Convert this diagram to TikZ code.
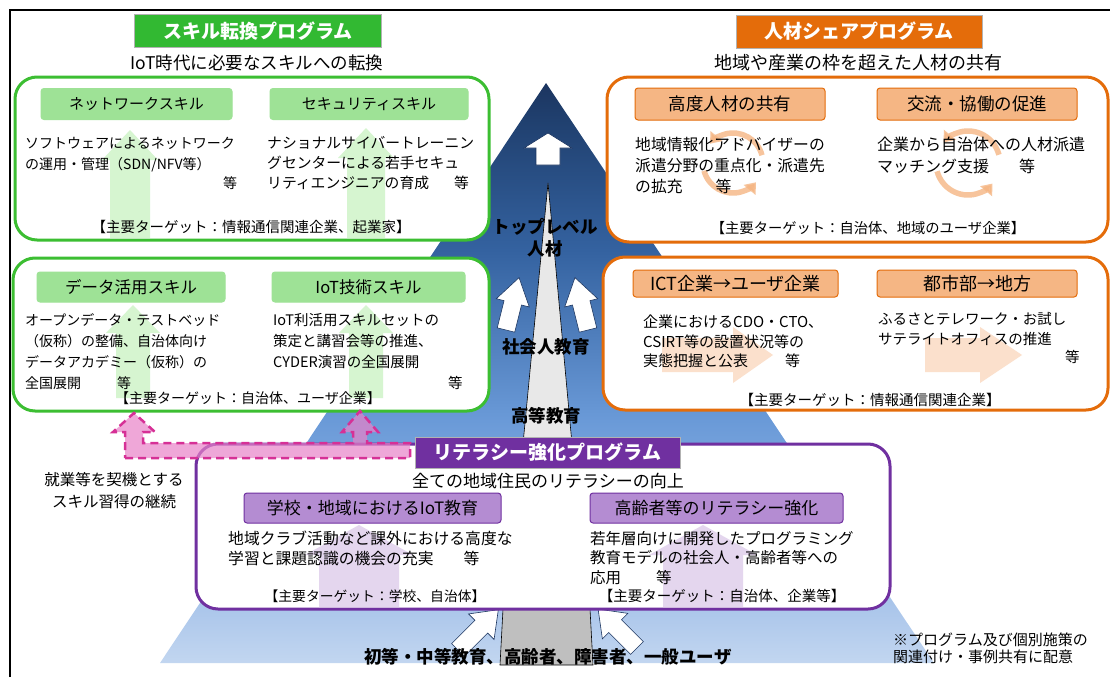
\documentclass[tikz,border=0pt]{standalone}
\usepackage{fontspec}
\setmainfont{Noto Sans CJK JP}
\usetikzlibrary{arrows.meta}

\definecolor{skillgreen}{RGB}{60,190,50}
\definecolor{skilltitle}{RGB}{50,185,50}
\definecolor{skillhead}{RGB}{158,226,150}
\definecolor{skillfaint}{RGB}{214,245,208}
\definecolor{shareorange}{RGB}{228,108,10}
\definecolor{sharehead}{RGB}{245,182,132}
\definecolor{sharefaint}{RGB}{251,224,204}
\definecolor{litpurple}{RGB}{112,48,160}
\definecolor{lithead}{RGB}{180,140,210}
\definecolor{litfaint}{RGB}{228,214,238}
\definecolor{pyrtop}{RGB}{28,53,96}
\definecolor{pyrhigh}{RGB}{32,64,111}
\definecolor{pyrmid}{RGB}{52,98,160}
\definecolor{pyrlow}{RGB}{106,154,216}
\definecolor{pyrfoot}{RGB}{168,196,234}
\definecolor{pyrbot}{RGB}{194,214,240}
\definecolor{pinkfill}{RGB}{232,130,200}
\definecolor{pinkline}{RGB}{214,48,150}

\pgfdeclareverticalshading{pyrshade}{100bp}{color(0bp)=(pyrbot); color(25bp)=(pyrbot);
  color(30.4bp)=(pyrfoot); color(45.9bp)=(pyrlow); color(60.6bp)=(pyrmid);
  color(71.8bp)=(pyrhigh); color(75bp)=(pyrtop); color(100bp)=(pyrtop)}

% fleche pleine : style, x, y, angle, longueur, demi-largeur tige, demi-largeur tete, longueur tete
\newcommand{\blockarrow}[8]{%
  \path[#1, shift={(#2,#3)}, rotate=#4]
    (-#6,0) -- (-#6,-#5+#8) -- (-#7,-#5+#8) -- (0,-#5)
    -- (#7,-#5+#8) -- (#6,-#5+#8) -- (#6,0) -- cycle;}

\begin{document}
\begin{tikzpicture}[x=1pt, y=-1pt,
    progbox/.style={line width=3pt, fill=white, rounded corners=22pt},
    titlebox/.style={draw=gray!60, text=white, font=\fontsize{19}{22}\selectfont\bfseries,
      minimum height=33pt, inner sep=0pt},
    headbox/.style={rounded corners=3pt, line width=1pt, minimum height=31pt, inner sep=0pt,
      font=\fontsize{15}{18}\selectfont},
    subtitle/.style={font=\fontsize{17.5}{20}\selectfont, inner sep=0pt},
    body/.style={font=\fontsize{14.5}{21}\selectfont, align=left, anchor=north west, inner sep=0pt},
    target/.style={font=\fontsize{14.5}{17}\selectfont, inner sep=0pt},
    pyrlabel/.style={font=\fontsize{17.5}{22}\selectfont\bfseries, align=center, inner sep=0pt},
    whitearrow/.style={fill=white, draw=pyrtop, line width=0.6pt},
    greenfaint/.style={fill=skillfaint},
    orangefaint/.style={fill=sharefaint},
    purplefaint/.style={fill=litfaint},
    cyclearrow/.style={draw=sharehead, opacity=0.8, line width=5.5pt,
      -{Triangle[width=15pt,length=10pt]}}]

\useasboundingbox (0,0) rectangle (1110,677);

% cadre
\draw[line width=1.5pt] (10,677) -- (10,10) -- (1110,10);

% pyramide
\shade[shading=pyrshade] (160,663) -- (546,83) -- (934,663) -- cycle;
\draw[fill=gray!18, line width=0.6pt] (523,444) -- (548,183) -- (572,444) -- cycle;
\draw[fill=gray!50, line width=0.6pt] (503,609) -- (590,609) -- (593,665) -- (500,665) -- cycle;

% fleches blanches
\blockarrow{whitearrow}{548}{165}{0}{32}{12}{24}{15}
\blockarrow{whitearrow}{506}{330}{-14}{54}{9}{17}{26}
\blockarrow{whitearrow}{588}{330}{14}{54}{9}{17}{26}
\blockarrow{whitearrow}{458}{650}{-45}{57}{9}{18}{24}
\blockarrow{whitearrow}{637}{648}{45}{55}{9}{18}{24}

\node[pyrlabel] (top) at (545,238) {トップレベル\\人材};
\node[pyrlabel] (adult) at (546,347) {社会人教育};
\node[pyrlabel] (higher) at (546,416) {高等教育};
\node[pyrlabel] (users) at (548,657) {初等・中等教育、高齢者、障害者、一般ユーザ};

% ---- スキル転換プログラム ----
\node[titlebox, fill=skilltitle, minimum width=247pt] (skill) at (258,31) {スキル転換プログラム};
\node[subtitle] (skillsub) at (257,63) {IoT時代に必要なスキルへの転換};

\draw[progbox, draw=skillgreen] (15,77) rectangle (489,240);
\blockarrow{greenfaint}{130}{238}{0}{108}{20}{28}{30}
\blockarrow{greenfaint}{366}{238}{0}{110}{19}{28}{30}
\node[headbox, fill=skillhead, draw=skillhead, minimum width=191pt] (network) at (136.5,104) {ネットワークスキル};
\node[headbox, fill=skillhead, draw=skillhead, minimum width=198pt] (security) at (369,104) {セキュリティスキル};
\node[body, font=\fontsize{14}{21}\selectfont] (networktxt) at (25,137) {ソフトウェアによるネットワーク\\の運用・管理（SDN/NFV等）};
\node[body, font=\fontsize{14}{21}\selectfont] (networketc) at (223,176) {等};
\node[body, font=\fontsize{14.8}{20}\selectfont] (securitytxt) at (267,136) {ナショナルサイバートレーニン\\グセンターによる若手セキュ\\リティエンジニアの育成\hspace{25pt}等};
\node[target] (skilltarget) at (251,227) {【主要ターゲット：情報通信関連企業、起業家】};

\draw[progbox, draw=skillgreen] (13,258) rectangle (489,411);
\blockarrow{greenfaint}{133}{398}{0}{93}{17}{27}{28}
\blockarrow{greenfaint}{366}{398}{0}{93}{17}{27}{28}
\node[headbox, fill=skillhead, draw=skillhead, minimum width=188pt, minimum height=30pt,
  font=\fontsize{16.5}{19}\selectfont] (data) at (131,287) {データ活用スキル};
\node[headbox, fill=skillhead, draw=skillhead, minimum width=193pt, minimum height=30pt,
  font=\fontsize{16.5}{19}\selectfont] (iot) at (368.5,287) {IoT技術スキル};
\node[body, font=\fontsize{14}{21}\selectfont] (datatxt) at (25,313) {オープンデータ・テストベッド\\（仮称）の整備、自治体向け\\データアカデミー（仮称）の\\全国展開\hspace{36pt}等};
\node[body] (iottxt) at (273,313) {IoT利活用スキルセットの\\策定と講習会等の推進、\\CYDER演習の全国展開};
\node[body] (iotetc) at (448,376) {等};
\node[target, font=\fontsize{14}{17}\selectfont] (datatarget) at (248,398) {【主要ターゲット：自治体、ユーザ企業】};

% ---- 人材シェアプログラム ----
\node[titlebox, fill=shareorange, minimum width=246pt] (share) at (859,31.5) {人材シェアプログラム};
\node[subtitle, font=\fontsize{18}{20}\selectfont] (sharesub) at (858,63) {地域や産業の枠を超えた人材の共有};

\draw[progbox, draw=shareorange] (607,77) rectangle (1108,242);
\draw[cyclearrow] ([shift={(15:30pt)}]733,163) arc[start angle=15, end angle=140, radius=30pt];
\draw[cyclearrow] ([shift={(195:30pt)}]733,163) arc[start angle=195, end angle=320, radius=30pt];
\draw[cyclearrow] ([shift={(15:32pt)}]968,163) arc[start angle=15, end angle=140, radius=32pt];
\draw[cyclearrow] ([shift={(195:32pt)}]968,163) arc[start angle=195, end angle=320, radius=32pt];
\node[headbox, fill=sharehead, draw=shareorange, minimum width=190pt, minimum height=32pt,
  font=\fontsize{17.5}{20}\selectfont] (expert) at (730,104) {高度人材の共有};
\node[headbox, fill=sharehead, draw=shareorange, minimum width=200pt, minimum height=32pt,
  font=\fontsize{17.5}{20}\selectfont] (exchange) at (977,104) {交流・協働の促進};
\node[body, font=\fontsize{15.8}{21}\selectfont] (experttxt) at (635,137) {地域情報化アドバイザーの\\派遣分野の重点化・派遣先\\の拡充\hspace{33pt}等};
\node[body, font=\fontsize{16}{22}\selectfont] (exchangetxt) at (877,137) {企業から自治体への人材派遣\\マッチング支援\hspace{30pt}等};
\node[target, font=\fontsize{14.3}{17}\selectfont] (sharetarget) at (868,228) {【主要ターゲット：自治体、地域のユーザ企業】};

\draw[progbox, draw=shareorange] (603,257) rectangle (1108,410);
\blockarrow{orangefaint}{662}{355}{-90}{111}{17}{28}{40}
\blockarrow{orangefaint}{925}{355}{-90}{97}{17}{28}{42}
\node[headbox, fill=sharehead, draw=shareorange, minimum width=205pt, minimum height=27pt,
  font=\fontsize{18}{20}\selectfont] (ict) at (735.5,283.5) {ICT企業→ユーザ企業};
\node[headbox, fill=sharehead, draw=shareorange, minimum width=200pt, minimum height=27pt,
  font=\fontsize{18}{20}\selectfont] (city) at (977,283.5) {都市部→地方};
\node[body, font=\fontsize{15}{19.5}\selectfont] (icttxt) at (643,315) {企業におけるCDO・CTO、\\CSIRT等の設置状況等の\\実態把握と公表\hspace{37pt}等};
\node[body, font=\fontsize{14.5}{20}\selectfont] (citytxt) at (878,312) {ふるさとテレワーク・お試し\\サテライトオフィスの推進};
\node[body, font=\fontsize{14.5}{20}\selectfont] (cityetc) at (1065,350) {等};
\node[target] (ictarget) at (870,400) {【主要ターゲット：情報通信関連企業】};

% ---- リテラシー強化プログラム ----
\draw[progbox, draw=litpurple] (196,444) rectangle (890,609);
\blockarrow{purplefaint}{359}{607}{0}{82}{40}{54}{30}
\blockarrow{purplefaint}{703}{607}{0}{82}{40}{54}{30}
\node[titlebox, fill=litpurple, minimum width=265pt, minimum height=31pt] (literacy) at (547.5,452.5) {リテラシー強化プログラム};
\node[subtitle, font=\fontsize{17}{20}\selectfont] (literacysub) at (548,481) {全ての地域住民のリテラシーの向上};
\node[headbox, fill=lithead, draw=litpurple, minimum width=257pt, minimum height=30pt,
  font=\fontsize{17}{20}\selectfont] (school) at (372.5,508) {学校・地域におけるIoT教育};
\node[headbox, fill=lithead, draw=litpurple, minimum width=253pt, minimum height=30pt,
  font=\fontsize{17}{20}\selectfont] (elderly) at (716.5,508) {高齢者等のリテラシー強化};
\node[body, font=\fontsize{15.8}{20}\selectfont] (schooltxt) at (228,531) {地域クラブ活動など課外における高度な\\学習と課題認識の機会の充実\hspace{30pt}等};
\node[body, font=\fontsize{15.5}{19.5}\selectfont] (elderlytxt) at (590,531) {若年層向けに開発したプログラミング\\教育モデルの社会人・高齢者等への\\応用\hspace{35pt}等};
\node[target, font=\fontsize{13.8}{17}\selectfont] (schooltarget) at (375,596) {【主要ターゲット：学校、自治体】};
\node[target] (elderlytarget) at (722,596) {【主要ターゲット：自治体、企業等】};

% 就業等を契機とする継続
\draw[fill=pinkfill, fill opacity=0.7, draw=pinkline, line width=2.5pt, dash pattern=on 8pt off 5pt]
  (125,458) -- (410,458) -- (410,443) -- (367,443) -- (367,432) -- (378,432) -- (360,411)
  -- (342,432) -- (353,432) -- (353,443) -- (143,443) -- (143,432) -- (155,432)
  -- (134,413) -- (113,432) -- (125,432) -- cycle;
\node[font=\fontsize{15.5}{22}\selectfont, align=center, inner sep=0pt] (continue) at (114,491) {就業等を契機とする\\スキル習得の継続};

% 注記
\node[font=\fontsize{15}{17}\selectfont, align=left, anchor=west, inner sep=0pt] (note) at (893,648) {※プログラム及び個別施策の\\関連付け・事例共有に配意};

\end{tikzpicture}
\end{document}
